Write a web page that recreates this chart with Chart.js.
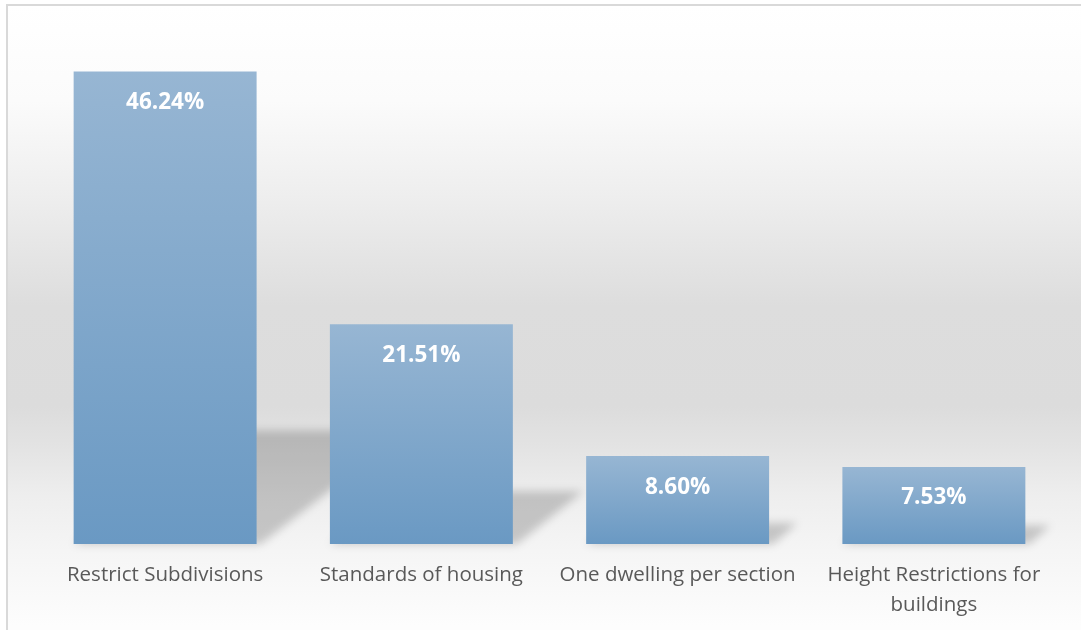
<!DOCTYPE html>
<html>
<head>
<meta charset="utf-8">
<script src="https://cdn.jsdelivr.net/npm/chart.js@4/dist/chart.umd.min.js"></script>
<style>
    html, body { margin: 0; padding: 0; background: #fff; overflow: hidden; }
    #frame {
        position: absolute; left: 6px; top: 4px; width: 1100px; height: 650px;
        border-left: 2px solid #d9d9d9; border-top: 2px solid #d9d9d9;
        background: linear-gradient(to bottom,
            #ffffff 0px, #fbfbfb 95px, #eeeeee 190px, #dddddd 300px,
            #dcdcdc 400px, #e3e3e3 440px, #eeeeee 490px, #f5f5f5 545px, #fdfdfd 620px);
    }
    #wrap { position: absolute; left: 0; top: 0; width: 1081px; height: 630px; }
</style>
</head>
<body>
<div id="frame"></div>
<div id="wrap"><canvas id="chartCanvas"></canvas></div>
<script>
const categories = [
    'Restrict Subdivisions',
    'Standards of housing',
    'One dwelling per section',
    ['Height Restrictions for', 'buildings']
]
const shares = [46.24, 21.51, 8.60, 7.53]
const valueLabels = ['46.24%', '21.51%', '8.60%', '7.53%']

// sombra em perspectiva atrás de cada barra
const shadowPlugin = {
    id: 'barShadow',
    beforeDatasetsDraw(chart) {
        const ctx = chart.ctx
        const meta = chart.getDatasetMeta(0)
        ctx.save()
        ctx.filter = 'blur(4px)'
        ctx.fillStyle = 'rgba(0,0,0,0.19)'
        meta.data.forEach(bar => {
            const left = bar.x - bar.width / 2
            const right = bar.x + bar.width / 2
            const h = bar.base - bar.y
            const sh = h * 0.24
            const shift = h * 0.32
            ctx.beginPath()
            ctx.moveTo(left, bar.base)
            ctx.lineTo(right + 4, bar.base)
            ctx.lineTo(right + shift, bar.base - sh)
            ctx.lineTo(left + shift, bar.base - sh)
            ctx.closePath()
            ctx.fill()
        })
        ctx.restore()
    }
}

const valuePlugin = {
    id: 'valueLabels',
    afterDatasetsDraw(chart) {
        const ctx = chart.ctx
        const meta = chart.getDatasetMeta(0)
        ctx.save()
        ctx.fillStyle = '#ffffff'
        ctx.font = 'bold 22.5px "Open Sans"'
        ctx.textAlign = 'center'
        ctx.textBaseline = 'middle'
        meta.data.forEach((bar, i) => {
            ctx.fillText(valueLabels[i], bar.x, bar.y + 31)
        })
        ctx.restore()
    }
}

function barGradient(context) {
    const chart = context.chart
    const y = chart.scales.y
    if (!y || context.dataIndex === undefined) return '#7fa6cb'
    const top = y.getPixelForValue(shares[context.dataIndex])
    const bottom = y.getPixelForValue(0)
    if (!isFinite(top) || !isFinite(bottom) || top === bottom) return '#7fa6cb'
    const g = chart.ctx.createLinearGradient(0, top, 0, bottom)
    g.addColorStop(0, '#97b6d3')
    g.addColorStop(1, '#6a99c3')
    return g
}

new Chart(document.getElementById('chartCanvas'), {
    type: 'bar',
    data: {
        labels: categories,
        datasets: [{
            data: shares,
            backgroundColor: barGradient,
            borderWidth: 0,
            categoryPercentage: 1,
            barPercentage: 0.714
        }]
    },
    options: {
        responsive: true,
        maintainAspectRatio: false,
        animation: false,
        layout: { padding: { left: 37, right: 19, top: 33, bottom: 0 } },
        plugins: { legend: { display: false }, tooltip: { enabled: false } },
        scales: {
            y: { display: false, min: 0, max: 50 },
            x: {
                grid: { display: false, drawTicks: false },
                border: { display: false },
                ticks: {
                    color: '#595959',
                    font: { family: 'Open Sans', size: 20.5, lineHeight: 1.42 },
                    padding: 17,
                    maxRotation: 0,
                    autoSkip: false
                },
                afterFit(scale) { scale.height = 86 }
            }
        }
    },
    plugins: [shadowPlugin, valuePlugin]
})
</script>
</body>
</html>
